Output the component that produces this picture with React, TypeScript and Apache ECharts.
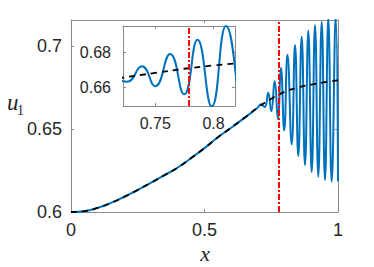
import React, { useEffect, useRef } from "react";
import * as echarts from "echarts";

// Mean (dashed black) profile u1(x)
const meanX = [0, 0.05, 0.1, 0.15, 0.2, 0.25, 0.3, 0.35, 0.4, 0.45, 0.5, 0.55, 0.6, 0.65, 0.7, 0.75, 0.8, 0.85, 0.9, 0.95, 1];
const meanY = [0.6, 0.6005, 0.6025, 0.6055, 0.6092, 0.6133, 0.6177, 0.6222, 0.6268, 0.6325, 0.6385, 0.645, 0.6508, 0.6568, 0.663, 0.6682, 0.6724, 0.675, 0.6768, 0.6782, 0.6793];

// Solution (blue) profile u1(x), smooth part then oscillation extrema
const solX = [0, 0.05, 0.1, 0.15, 0.2, 0.25, 0.3, 0.35, 0.4, 0.45, 0.5, 0.55, 0.6, 0.65, 0.7,
  0.712, 0.7258, 0.7386, 0.75, 0.7628, 0.7748, 0.7862, 0.7985, 0.8107, 0.8266, 0.839, 0.8513, 0.864,
  0.8764, 0.8888, 0.9015, 0.9139, 0.9262, 0.939, 0.9513, 0.9637, 0.9764, 0.9914, 1.0];
const solY = [0.6, 0.6005, 0.6025, 0.6055, 0.6092, 0.6133, 0.6177, 0.6222, 0.6268, 0.6325, 0.6385, 0.645, 0.6508, 0.6568, 0.663,
  0.665, 0.6632, 0.6719, 0.6607, 0.6789, 0.6561, 0.6869, 0.6492, 0.6947, 0.6408, 0.7006, 0.6338, 0.7056,
  0.6283, 0.7092, 0.6241, 0.7127, 0.6213, 0.7146, 0.6193, 0.7165, 0.6183, 0.718, 0.6185];

const thresholdX = 0.779;

// Axes
const mainXRange = [0, 1];
const mainYRange = [0.6, 0.7157];
const mainXTicks = [0, 0.5, 1];
const mainYTicks = [0.6, 0.65, 0.7];
const insetXRange = [0.7224, 0.8184];
const insetYRange = [0.6495, 0.6947];
const insetXTicks = [0.75, 0.8];
const insetYTicks = [0.66, 0.68];

const BLUE = "#0072BD";
const BOX = "#8a8a8a";
const TXT = "#262626";

const zip = (xs: number[], ys: number[]) => xs.map((x, i) => [x, ys[i]]);

function axis(kind: "x" | "y", grid: number, range: number[], ticks: number[], pos: string, labels: boolean, fs: number, margin: number) {
  return {
    type: "value",
    gridIndex: grid,
    position: pos,
    min: range[0],
    max: range[1],
    axisLine: { show: true, onZero: false, lineStyle: { color: BOX, width: 1 } },
    axisTick: { show: true, inside: true, length: 3, customValues: ticks, lineStyle: { color: BOX, width: 1 } },
    axisLabel: {
      show: labels,
      customValues: ticks,
      fontFamily: "Liberation Sans, Arial, sans-serif",
      fontSize: fs,
      color: TXT,
      margin,
      formatter: (v: number) => String(+v.toFixed(3)),
    },
    splitLine: { show: false },
  };
}

export default function App() {
  const ref = useRef<HTMLDivElement>(null);
  useEffect(() => {
    if (!ref.current) return;
    const chart = echarts.init(ref.current, null, { renderer: "svg" });
    const sol = zip(solX, solY);
    const mean = zip(meanX, meanY);
    const lineBase = { type: "line", showSymbol: false, symbol: "none", clip: true, silent: true };
    const dashed = { color: "#000", width: 1.8, type: [6, 5] };
    chart.setOption({
      animation: false,
      backgroundColor: "#ffffff",
      grid: [
        { left: 71, top: 20, width: 267, height: 192, outerBoundsMode: "none" },
        { left: 123, top: 26, width: 112, height: 80, show: true, backgroundColor: "#ffffff", borderWidth: 0, outerBoundsMode: "none" },
      ],
      xAxis: [
        axis("x", 0, mainXRange, mainXTicks, "bottom", true, 18, 9),
        axis("x", 0, mainXRange, mainXTicks, "top", false, 18, 9),
        axis("x", 1, insetXRange, insetXTicks, "bottom", true, 16, 9),
        axis("x", 1, insetXRange, insetXTicks, "top", false, 16, 9),
      ],
      yAxis: [
        axis("y", 0, mainYRange, mainYTicks, "left", true, 18, 9),
        axis("y", 0, mainYRange, mainYTicks, "right", false, 18, 9),
        axis("y", 1, insetYRange, insetYTicks, "left", true, 16, 12),
        axis("y", 1, insetYRange, insetYTicks, "right", false, 16, 12),
      ],
      series: [
        { ...lineBase, xAxisIndex: 0, yAxisIndex: 0, data: sol, smooth: 0.5, lineStyle: { color: BLUE, width: 2 } },
        { ...lineBase, xAxisIndex: 0, yAxisIndex: 0, data: mean, smooth: 0.5, lineStyle: dashed },
        { ...lineBase, xAxisIndex: 0, yAxisIndex: 0, data: [[thresholdX, mainYRange[0]], [thresholdX, mainYRange[1]]], lineStyle: { color: "#ff0000", width: 2, type: [6, 2, 2, 2] } },
        { ...lineBase, xAxisIndex: 2, yAxisIndex: 2, data: sol, smooth: 0.5, lineStyle: { color: BLUE, width: 2 } },
        { ...lineBase, xAxisIndex: 2, yAxisIndex: 2, data: mean, smooth: 0.5, lineStyle: dashed },
        { ...lineBase, xAxisIndex: 2, yAxisIndex: 2, data: [[thresholdX, insetYRange[0]], [thresholdX, insetYRange[1]]], lineStyle: { color: "#ff0000", width: 2, type: [6, 2, 2, 2] } },
      ],
      graphic: [
        { type: "text", x: 205, y: 253, style: { text: "x", fontFamily: "Liberation Serif, serif", fontStyle: "italic", fontSize: 22, fill: TXT, align: "center", verticalAlign: "middle" } },
        { type: "text", x: 7, y: 102, style: { text: "u", fontFamily: "Liberation Serif, serif", fontStyle: "italic", fontSize: 23, fill: TXT, align: "left", verticalAlign: "middle" } },
        { type: "text", x: 17, y: 110, style: { text: "1", fontFamily: "Liberation Serif, serif", fontSize: 14, fill: TXT, align: "left", verticalAlign: "middle" } },
      ],
    });
    return () => chart.dispose();
  }, []);
  return <div ref={ref} style={{ position: "absolute", left: 0, top: 0, width: 374, height: 267 }} />;
}
